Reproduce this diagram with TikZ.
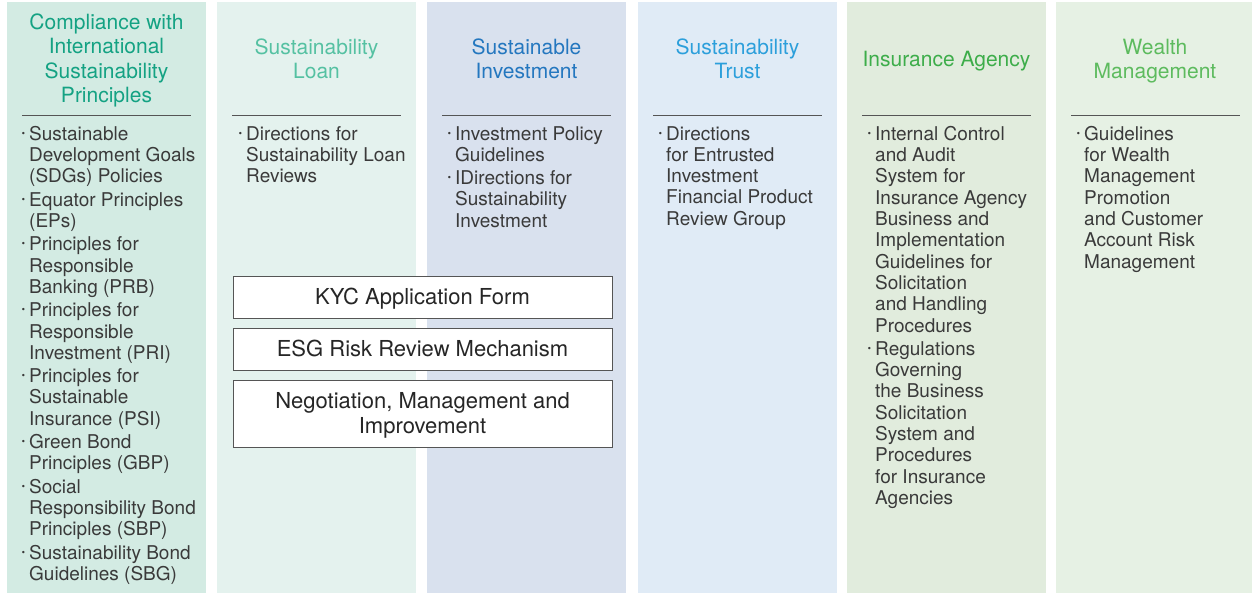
\documentclass[tikz,border=0pt]{standalone}
\usepackage{fontspec}
\setmainfont{TeX Gyre Heros}
\usepackage{tikz}
\usetikzlibrary{positioning}
\usepackage{xcolor}
\definecolor{bgA}{HTML}{D3EBE3}
\definecolor{bgB}{HTML}{E4F2EE}
\definecolor{bgC}{HTML}{D9E1EE}
\definecolor{bgD}{HTML}{E0EBF6}
\definecolor{bgE}{HTML}{E1ECDD}
\definecolor{bgF}{HTML}{E6F1E4}
\definecolor{txA}{HTML}{14A283}
\definecolor{txB}{HTML}{55C1A2}
\definecolor{txC}{HTML}{2477BF}
\definecolor{txD}{HTML}{2C9FDB}
\definecolor{txE}{HTML}{3DAD4A}
\definecolor{txF}{HTML}{5DBB5E}
\definecolor{bodytx}{HTML}{3A3A3A}
\definecolor{rulegray}{HTML}{555555}
\tikzset{
  colbox/.style={rectangle, draw=none, anchor=north west, inner sep=0pt,
    minimum width=199pt, minimum height=591pt},
  ttl/.style={align=center, inner sep=0pt,
    font=\fontsize{21}{24.4}\selectfont},
  lst/.style={align=left, anchor=north west, inner sep=0pt, text=bodytx,
    font=\fontsize{19}{21.3}\selectfont},
  hdrule/.style={draw=rulegray, line width=1pt},
  kbox/.style={rectangle, draw=rulegray, fill=white, line width=0.9pt,
    minimum width=379pt, align=center, inner sep=0pt, text=black!85,
    font=\fontsize{22}{25}\selectfont, text height=15.8pt, text depth=0pt},
}
% bullet and continuation indent for the lists
\newcommand{\bul}{\makebox[9pt][l]{\raisebox{0.1ex}{\scalebox{1.25}{·}}}}
\newcommand{\bcont}{\hbox to 9pt{}}

\begin{document}
\begin{tikzpicture}[x=1pt, y=-1pt]
  \useasboundingbox (0,0) rectangle (1252,593);

  % ---- Columns ----
  \node[colbox, fill=bgA] (colA) at (7,2) {};
  \node[colbox, fill=bgB] (colB) at (217,2) {};
  \node[colbox, fill=bgC] (colC) at (427,2) {};
  \node[colbox, fill=bgD] (colD) at (638,2) {};
  \node[colbox, fill=bgE] (colE) at (847,2) {};
  \node[colbox, fill=bgF, minimum width=196pt] (colF) at (1056,2) {};

  % ---- Headings ----
  \node[ttl, text=txA] (ttlA) at (106.5,60.5)
        {Compliance with\\International\\Sustainability\\Principles};
  \node[ttl, text=txB] (ttlB) at (316.5,59) {Sustainability\\Loan};
  \node[ttl, text=txC] (ttlC) at (526.5,59) {Sustainable\\Investment};
  \node[ttl, text=txD] (ttlD) at (737.5,59) {Sustainability\\Trust};
  \node[ttl, text=txE] (ttlE) at (946.5,61) {Insurance Agency};
  \node[ttl, text=txF] (ttlF) at (1155,61) {Wealth\\Management};

  \foreach \x in {7,217,427,638,847,1056}
    \draw[hdrule] (\x+15,116) -- (\x+184,116);

  % ---- Lists ----
  \node[lst] (lstA) at (20,126)
        {\bul Sustainable\\\bcont Development Goals\\\bcont (SDGs) Policies\\[2pt]
         \bul Equator Principles\\\bcont (EPs)\\[2pt]
         \bul Principles for\\\bcont Responsible\\\bcont Banking (PRB)\\[2pt]
         \bul Principles for\\\bcont Responsible\\\bcont Investment (PRI)\\[2pt]
         \bul Principles for\\\bcont Sustainable\\\bcont Insurance (PSI)\\[2pt]
         \bul Green Bond\\\bcont Principles (GBP)\\[2pt]
         \bul Social\\\bcont Responsibility Bond\\\bcont Principles (SBP)\\[2pt]
         \bul Sustainability Bond\\\bcont Guidelines (SBG)};
  \node[lst] (lstB) at (237,126)
        {\bul Directions for\\\bcont Sustainability Loan\\\bcont Reviews};
  \node[lst] (lstC) at (446,126)
        {\bul Investment Policy\\\bcont Guidelines\\[2pt]
         \bul IDirections for\\\bcont Sustainability\\\bcont Investment};
  \node[lst] (lstD) at (657,126)
        {\bul Directions\\\bcont for Entrusted\\\bcont Investment\\
         \bcont Financial Product\\\bcont Review Group};
  \node[lst] (lstE) at (866,126)
        {\bul Internal Control\\\bcont and Audit\\\bcont System for\\
         \bcont Insurance Agency\\\bcont Business and\\\bcont Implementation\\
         \bcont Guidelines for\\\bcont Solicitation\\\bcont and Handling\\
         \bcont Procedures\\[2pt]
         \bul Regulations\\\bcont Governing\\\bcont the Business\\
         \bcont Solicitation\\\bcont System and\\\bcont Procedures\\
         \bcont for Insurance\\\bcont Agencies};
  \node[lst] (lstF) at (1075,126)
        {\bul Guidelines\\\bcont for Wealth\\\bcont Management\\
         \bcont Promotion\\\bcont and Customer\\\bcont Account Risk\\
         \bcont Management};

  % ---- Shared process boxes ----
  \node[kbox, minimum height=42pt] (kyc) at (422.5,297) {KYC Application Form};
  \node[kbox, minimum height=42pt] (esg) at (422.5,349) {ESG Risk Review Mechanism};
  \node[kbox, minimum height=67pt, text height=40.8pt] (nego) at (422.5,413.5)
        {Negotiation, Management and\\Improvement};
\end{tikzpicture}
\end{document}
